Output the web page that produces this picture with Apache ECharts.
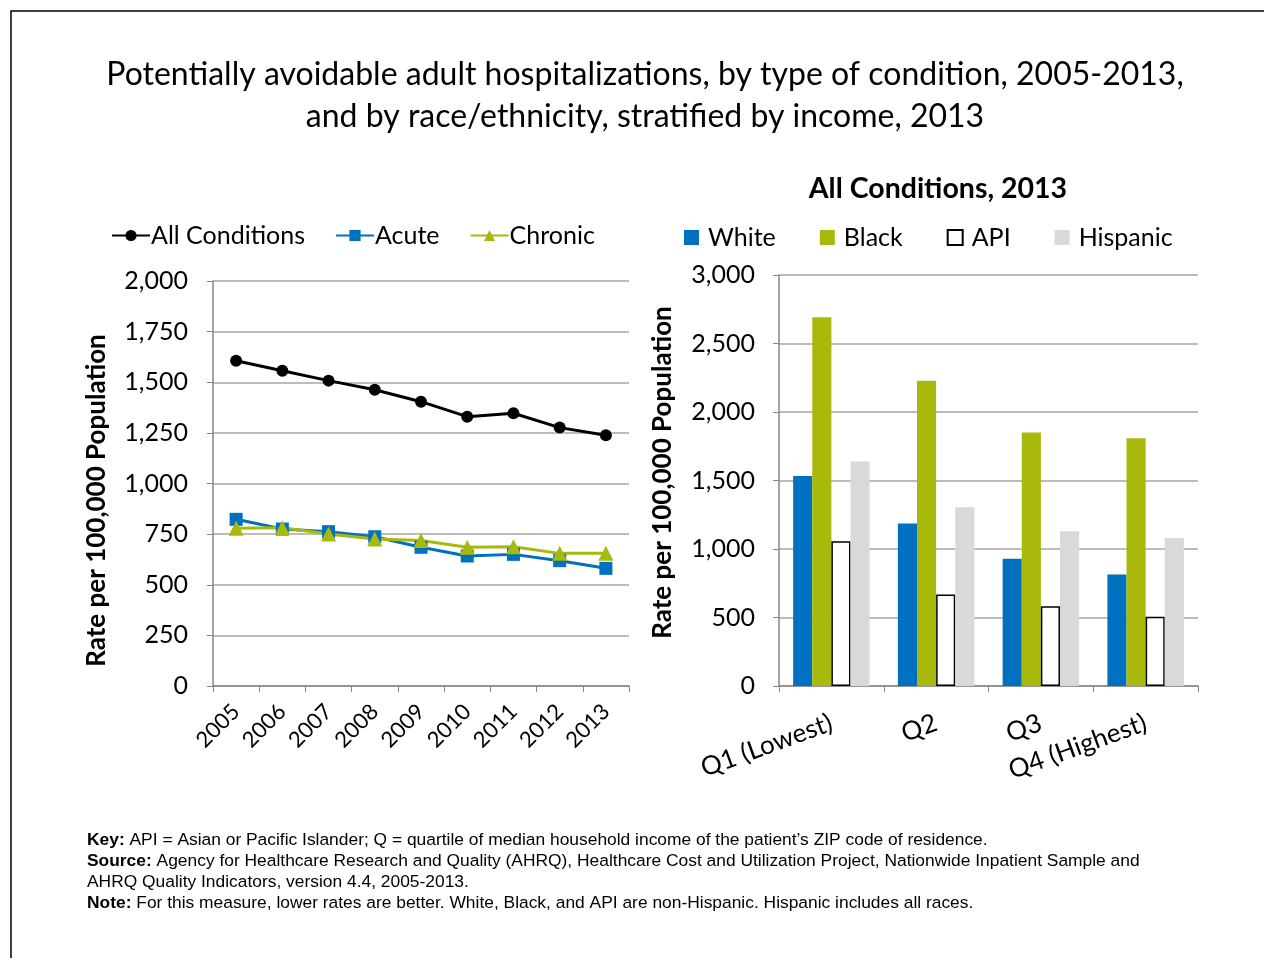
<!DOCTYPE html>
<html>
<head>
<meta charset="utf-8">
<script src="https://cdn.jsdelivr.net/npm/echarts@6/dist/echarts.min.js"></script>
<style>
	html, body { margin: 0; padding: 0; background: #fff; }
	#chart { width: 1264px; height: 958px; }
</style>
</head>
<body>
<div id="chart"></div>
<script>
var years = ['2005', '2006', '2007', '2008', '2009', '2010', '2011', '2012', '2013'];
var allConditions = [1606, 1557, 1508, 1463, 1404, 1330, 1347, 1276, 1238];
var acute = [823, 775, 762, 737, 685, 642, 650, 619, 581];
var chronic = [779, 782, 751, 726, 718, 685, 688, 655, 655];

var quartiles = ['Q1 (Lowest)', 'Q2', 'Q3', 'Q4 (Highest)'];
var white = [1533, 1186, 928, 814];
var black = [2692, 2228, 1851, 1808];
var api = [1057, 668, 583, 505];
var hispanic = [1638, 1305, 1130, 1081];

var font = 'Lato';
var axisGray = '#868686';
var gridGray = '#a6a6a6';

function fmt(v){
	return v.toLocaleString('en-US');
}

function initChart(){
	var chart = echarts.init(document.getElementById('chart'));
	var option = {
		backgroundColor: '#fff',
		animation: false,
		title: [
			{
				text: 'Potentially avoidable adult hospitalizations, by type of condition, 2005-2013,\nand by race/ethnicity, stratified by income, 2013',
				left: 640,
				top: 49,
				textAlign: 'center',
				textStyle: { fontFamily: font, fontSize: 32, fontWeight: 'normal', color: '#000', lineHeight: 42 }
			},
			{
				text: 'All Conditions, 2013',
				left: 933,
				top: 169,
				textAlign: 'center',
				textStyle: { fontFamily: font, fontSize: 28.5, fontWeight: 'bold', color: '#000' }
			}
		],
		legend: [
			{
				left: 106,
				top: 218,
				itemWidth: 38,
				itemHeight: 14,
				itemGap: 30,
				textStyle: { fontFamily: font, fontSize: 25, color: '#000', padding: [0, 0, 0, -4] },
				data: ['All Conditions', 'Acute', 'Chronic']
			},
			{
				left: 679,
				top: 220,
				itemWidth: 15,
				itemHeight: 15,
				itemGap: 44,
				icon: 'rect',
				textStyle: { fontFamily: font, fontSize: 25, color: '#000', padding: [0, 0, 0, 4] },
				data: ['White', 'Black', 'API', 'Hispanic']
			}
		],
		grid: [
			{ left: 213, top: 281, width: 416, height: 405 },
			{ left: 779, top: 275, width: 419, height: 411 }
		],
		xAxis: [
			{
				gridIndex: 0,
				type: 'category',
				data: years,
				boundaryGap: true,
				axisLine: { lineStyle: { color: axisGray, width: 1.5 } },
				axisTick: { show: true, length: 6, lineStyle: { color: axisGray } },
				axisLabel: { rotate: 45, fontFamily: font, fontSize: 22, color: '#000', margin: 22, interval: 0 }
			},
			{
				gridIndex: 1,
				type: 'category',
				data: quartiles,
				boundaryGap: true,
				axisLine: { lineStyle: { color: axisGray, width: 1.5 } },
				axisTick: { show: true, length: 6, lineStyle: { color: axisGray } },
				axisLabel: { rotate: 20, fontFamily: font, fontSize: 26, color: '#000', margin: 36, interval: 0 }
			}
		],
		yAxis: [
			{
				gridIndex: 0,
				type: 'value',
				min: 0,
				max: 2000,
				interval: 250,
				name: 'Rate per 100,000 Population',
				nameLocation: 'middle',
				nameGap: 103,
				nameTextStyle: { fontFamily: font, fontSize: 26, fontWeight: 'bold', color: '#000', padding: [0, 34, 0, 0] },
				axisLine: { show: true, lineStyle: { color: axisGray, width: 1.5 } },
				axisTick: { show: true, length: 6, lineStyle: { color: axisGray } },
				axisLabel: { fontFamily: font, fontSize: 25, color: '#000', margin: 25, formatter: fmt },
				splitLine: { lineStyle: { color: gridGray, width: 1.5 } }
			},
			{
				gridIndex: 1,
				type: 'value',
				min: 0,
				max: 3000,
				interval: 500,
				name: 'Rate per 100,000 Population',
				nameLocation: 'middle',
				nameGap: 103,
				nameTextStyle: { fontFamily: font, fontSize: 26, fontWeight: 'bold', color: '#000', padding: [0, 0, 0, 16] },
				axisLine: { show: true, lineStyle: { color: axisGray, width: 1.5 } },
				axisTick: { show: true, length: 6, lineStyle: { color: axisGray } },
				axisLabel: { fontFamily: font, fontSize: 25, color: '#000', margin: 24, formatter: fmt },
				splitLine: { lineStyle: { color: gridGray, width: 1.5 } }
			}
		],
		series: [
			{
				name: 'All Conditions',
				type: 'line',
				xAxisIndex: 0,
				yAxisIndex: 0,
				data: allConditions,
				symbol: 'circle',
				symbolSize: 12,
				itemStyle: { color: '#000' },
				lineStyle: { color: '#000', width: 3 }
			},
			{
				name: 'Acute',
				type: 'line',
				xAxisIndex: 0,
				yAxisIndex: 0,
				data: acute,
				symbol: 'rect',
				symbolSize: 13,
				itemStyle: { color: '#0070c0' },
				lineStyle: { color: '#0070c0', width: 3 }
			},
			{
				name: 'Chronic',
				type: 'line',
				xAxisIndex: 0,
				yAxisIndex: 0,
				data: chronic,
				symbol: 'triangle',
				symbolSize: 15,
				itemStyle: { color: '#a9b90b' },
				lineStyle: { color: '#a9b90b', width: 3 }
			},
			{
				name: 'White',
				type: 'bar',
				xAxisIndex: 1,
				yAxisIndex: 1,
				data: white,
				barGap: '0%',
				barCategoryGap: '27%',
				itemStyle: { color: '#0070c0' }
			},
			{
				name: 'Black',
				type: 'bar',
				xAxisIndex: 1,
				yAxisIndex: 1,
				data: black,
				itemStyle: { color: '#a9b90b' }
			},
			{
				name: 'API',
				type: 'bar',
				xAxisIndex: 1,
				yAxisIndex: 1,
				data: api,
				itemStyle: { color: '#fff', borderColor: '#000', borderWidth: 1.5 }
			},
			{
				name: 'Hispanic',
				type: 'bar',
				xAxisIndex: 1,
				yAxisIndex: 1,
				data: hispanic,
				itemStyle: { color: '#d9d9d9' }
			}
		],
		graphic: [
			{
				type: 'rect',
				shape: { x: 11, y: 11, width: 1300, height: 1000 },
				style: { fill: 'none', stroke: '#000', lineWidth: 1.5 },
				silent: true
			},
			{
				type: 'text',
				left: 87,
				top: 830,
				style: {
					text: '{b|Key:} API = Asian or Pacific Islander; Q = quartile of median household income of the patient\u2019s ZIP code of residence.\n' +
						'{b|Source:} Agency for Healthcare Research and Quality (AHRQ), Healthcare Cost and Utilization Project, Nationwide Inpatient Sample and\n' +
						'AHRQ Quality Indicators, version 4.4, 2005-2013.\n' +
						'{b|Note:} For this measure, lower rates are better. White, Black, and API are non-Hispanic. Hispanic includes all races.',
					font: '17.4px "Liberation Sans"',
					fill: '#000',
					lineHeight: 21,
					rich: {
						b: { fontWeight: 'bold', fontFamily: 'Liberation Sans', fontSize: 17.4, lineHeight: 21 }
					}
				}
			}
		]
	};
	chart.setOption(option);
}

(function init(){
	initChart();
})();
</script>
</body>
</html>
